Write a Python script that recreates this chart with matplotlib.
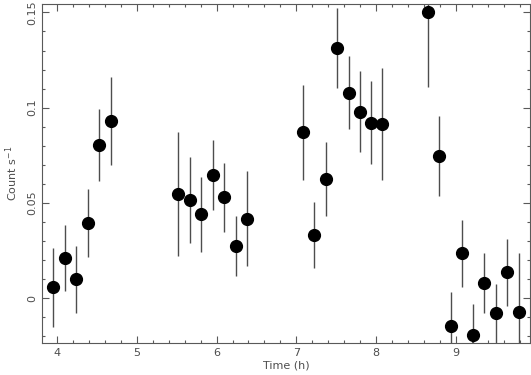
import numpy as np
import matplotlib
matplotlib.use("Agg")
import matplotlib.pyplot as plt
from matplotlib.ticker import MultipleLocator

# light curve values
time_h = [3.95, 4.10, 4.24, 4.385, 4.53, 4.67,
          5.52, 5.667, 5.81, 5.95, 6.09, 6.24, 6.377,
          7.087, 7.225, 7.37, 7.51, 7.655, 7.797, 7.94, 8.08,
          8.65, 8.79, 8.94, 9.08, 9.217, 9.36, 9.50, 9.643, 9.79]
rate = [0.0058, 0.021, 0.010, 0.0393, 0.0804, 0.0929,
        0.0549, 0.0516, 0.0441, 0.0647, 0.053, 0.0274, 0.0418,
        0.0871, 0.0332, 0.0626, 0.1313, 0.1079, 0.0979, 0.0921, 0.0916,
        0.1504, 0.0745, -0.0144, 0.0236, -0.0194, 0.0079, -0.0079, 0.0136, -0.007]
rate_err = [0.0207, 0.0173, 0.0176, 0.0179, 0.019, 0.0232,
            0.0325, 0.0226, 0.0196, 0.0184, 0.018, 0.0155, 0.025,
            0.0248, 0.0171, 0.0194, 0.021, 0.0192, 0.0212, 0.0218, 0.0294,
            0.0397, 0.0211, 0.0177, 0.0175, 0.0164, 0.0158, 0.0154, 0.0176, 0.0306]

fig = plt.figure(figsize=(5.31, 3.75), dpi=100)
ax = fig.add_axes([0.079, 0.0853, 0.919, 0.904])

ax.errorbar(time_h, rate, yerr=rate_err, fmt='o', color='black',
            ecolor='0.3', elinewidth=1.0, markersize=8.5, capsize=0)

ax.set_xlim(3.81, 9.93)
ax.set_ylim(-0.0235, 0.1544)

ax.xaxis.set_major_locator(MultipleLocator(1))
ax.xaxis.set_minor_locator(MultipleLocator(0.2))
ax.yaxis.set_major_locator(MultipleLocator(0.05))
ax.yaxis.set_minor_locator(MultipleLocator(0.01))
ax.set_yticks([0, 0.05, 0.1, 0.15])
ax.set_yticklabels(['0', '0.05', '0.1', '0.15'], rotation=90, va='center')

ax.tick_params(which='both', direction='in', top=True, right=True,
               colors='0.35', labelcolor='0.3', labelsize=8, width=0.8)
ax.tick_params(which='major', length=5)
ax.tick_params(which='minor', length=2.5)
for s in ax.spines.values():
    s.set_color('0.35')
    s.set_linewidth(0.8)

ax.set_xlabel('Time (h)', fontsize=8, color='0.3', labelpad=2)
ax.set_ylabel('Count s$^{-1}$', fontsize=8, color='0.3', labelpad=5)

fig.savefig('out.png', dpi=100)
